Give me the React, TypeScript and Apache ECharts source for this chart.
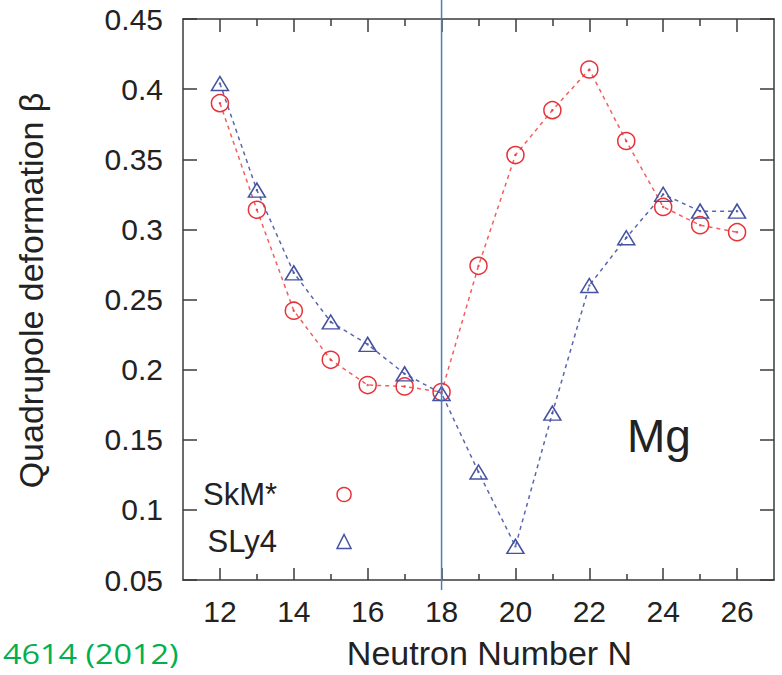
import { useEffect, useRef } from "react";
import * as echarts from "echarts";

// Neutron numbers of the Mg isotopes
const neutronNumbers = [12, 13, 14, 15, 16, 17, 18, 19, 20, 21, 22, 23, 24, 25, 26];

// Quadrupole deformation beta, SkM* functional
const skmBeta = [0.39, 0.314, 0.242, 0.207, 0.189, 0.188, 0.184, 0.274, 0.353, 0.385, 0.414, 0.363, 0.316, 0.303, 0.298];

// Quadrupole deformation beta, SLy4 functional
const sly4Beta = [0.404, 0.328, 0.269, 0.234, 0.218, 0.197, 0.183, 0.127, 0.074, 0.169, 0.26, 0.294, 0.325, 0.313, 0.313];

// Tick positions on the N axis
const majorTicks = [12, 14, 16, 18, 20, 22, 24, 26];
const minorTicks = [13, 15, 17, 19, 21, 23, 25];

// Neutron number marked by the vertical guide line
const guideN = 18;

const FONT = "Liberation Sans";
const INK = "#222";
const AXIS = "#3a3a3a";
const RED = "#e8323a";
const RED_LINE = "#f06060";
const BLUE = "#4552a0";
const BLUE_LINE = "#5a66b0";

export default function App() {
  const ref = useRef<HTMLDivElement>(null);

  useEffect(() => {
    const chart = echarts.init(ref.current!, null, { renderer: "svg" });
    const pairs = (ys: number[]) => neutronNumbers.map((n, i) => [n, ys[i]]);
    const axisLine = { show: true, onZero: false, lineStyle: { color: AXIS, width: 1.5 } };
    const tickLine = { color: AXIS, width: 1.5 };
    const xBase = {
      type: "value",
      min: 11,
      max: 27,
      interval: 1,
      splitLine: { show: false },
    };

    chart.setOption({
      animation: false,
      grid: { left: 183, right: 8, top: 19, bottom: 93 },
      xAxis: [
        {
          ...xBase,
          position: "bottom",
          axisLine,
          name: "Neutron Number N",
          nameLocation: "middle",
          nameGap: 56,
          nameTextStyle: { fontFamily: FONT, fontSize: 34, color: INK, padding: [0, 0, 0, 22] },
          axisTick: { show: true, inside: true, length: 12, customValues: majorTicks, lineStyle: tickLine },
          axisLabel: { customValues: majorTicks, margin: 16, fontFamily: FONT, fontSize: 30, color: INK },
        },
        {
          ...xBase,
          position: "bottom",
          axisLine: { show: false },
          axisTick: { show: true, inside: true, length: 6, customValues: minorTicks, lineStyle: tickLine },
          axisLabel: { show: false },
        },
        {
          ...xBase,
          position: "top",
          axisLine,
          axisTick: { show: true, inside: true, length: 13, customValues: majorTicks, lineStyle: tickLine },
          axisLabel: { show: false },
        },
        {
          ...xBase,
          position: "top",
          axisLine: { show: false },
          axisTick: { show: true, inside: true, length: 7, customValues: minorTicks, lineStyle: tickLine },
          axisLabel: { show: false },
        },
      ],
      yAxis: [
        {
          type: "value",
          position: "left",
          min: 0.05,
          max: 0.45,
          interval: 0.05,
          splitLine: { show: false },
          axisLine,
          axisTick: { show: true, inside: true, length: 14, lineStyle: tickLine },
          axisLabel: { margin: 20, fontFamily: FONT, fontSize: 30, color: INK },
          name: "Quadrupole deformation β",
          nameLocation: "middle",
          nameGap: 135,
          nameTextStyle: { fontFamily: FONT, fontSize: 34, color: INK, padding: [0, 0, 0, 18] },
        },
        {
          type: "value",
          position: "right",
          min: 0.05,
          max: 0.45,
          interval: 0.05,
          splitLine: { show: false },
          axisLine,
          axisTick: { show: true, inside: true, length: 14, lineStyle: tickLine },
          axisLabel: { show: false },
        },
      ],
      legend: {
        left: 203,
        top: 479,
        orient: "vertical",
        align: "right",
        padding: 0,
        itemGap: 16,
        itemWidth: 14,
        itemHeight: 14,
        selectedMode: false,
        textStyle: {
          fontFamily: FONT,
          fontSize: 31,
          color: INK,
          padding: [0, 55, 0, 0],
        },
        data: [
          { name: "SkM*", icon: "circle", itemStyle: { color: "rgba(0,0,0,0)", borderColor: RED, borderWidth: 1.5 } },
          { name: "SLy4", icon: "triangle", itemStyle: { color: "rgba(0,0,0,0)", borderColor: BLUE, borderWidth: 1.5 } },
        ],
      },
      series: [
        {
          name: "SkM*",
          type: "line",
          data: pairs(skmBeta),
          symbol: "circle",
          symbolSize: 17,
          lineStyle: { color: RED_LINE, width: 1.5, type: [4, 4] },
          itemStyle: { color: "rgba(0,0,0,0)", borderColor: RED, borderWidth: 1.5 },
          z: 3,
        },
        {
          name: "SLy4",
          type: "line",
          data: pairs(sly4Beta),
          symbol: "triangle",
          symbolSize: [17, 14],
          lineStyle: { color: BLUE_LINE, width: 1.5, type: [4, 4] },
          itemStyle: { color: "rgba(0,0,0,0)", borderColor: BLUE, borderWidth: 1.5 },
          z: 3,
        },
        {
          name: "SkM* centre",
          type: "scatter",
          data: pairs(skmBeta),
          symbol: "circle",
          symbolSize: 2.5,
          itemStyle: { color: RED },
          silent: true,
          z: 4,
        },
        {
          name: "SLy4 centre",
          type: "scatter",
          data: pairs(sly4Beta),
          symbol: "circle",
          symbolSize: 2.5,
          itemStyle: { color: BLUE },
          silent: true,
          z: 4,
        },
      ],
    });

    // Vertical guide at N = 18, running past the frame on both ends
    const gx = chart.convertToPixel({ xAxisIndex: 0 }, guideN) as number;
    const yBottom = chart.convertToPixel({ yAxisIndex: 0 }, 0.05) as number;
    chart.setOption({
      graphic: [
        {
          type: "line",
          shape: { x1: gx, y1: 0, x2: gx, y2: yBottom + 10 },
          style: { stroke: "#4a7dc0", lineWidth: 1.5 },
          z: 10,
        },
        {
          type: "text",
          left: 627,
          top: 413,
          style: { text: "Mg", fontFamily: FONT, fontSize: 46, fill: INK },
          z: 10,
        },
        {
          type: "text",
          x: 3,
          y: 667,
          scaleX: 1.2,
          style: {
            text: "4614 (2012)",
            fontFamily: "Open Sans",
            fontSize: 27,
            fill: "#00b050",
            align: "left",
            verticalAlign: "bottom",
          },
          z: 10,
        },
      ],
    });

    return () => chart.dispose();
  }, []);

  return (
    <div
      ref={ref}
      style={{ position: "fixed", left: 0, top: 0, width: 782, height: 675, background: "#fff" }}
    />
  );
}
